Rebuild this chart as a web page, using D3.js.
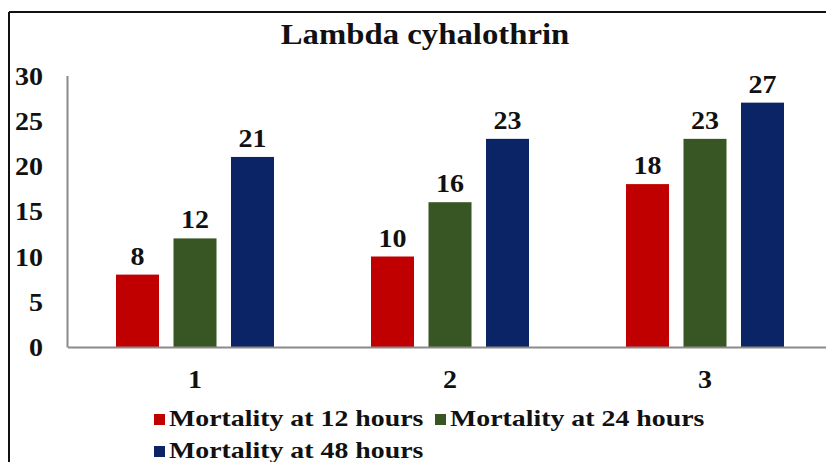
<!DOCTYPE html>
<html>
<head>
<meta charset="utf-8">
<script src="https://cdn.jsdelivr.net/npm/d3@7"></script>
<style>
  html, body { margin: 0; padding: 0; background: #fff; }
  svg { display: block; }
  text { font-family: "Liberation Serif", "Times New Roman", serif; font-weight: bold; fill: #111; }
</style>
</head>
<body>
<svg id="chart" width="826" height="462"></svg>
<script>
const title = "Lambda cyhalothrin";
const categories = ["1", "2", "3"];
const seriesNames = ["Mortality at 12 hours", "Mortality at 24 hours", "Mortality at 48 hours"];
const mort12 = [8, 10, 18];
const mort24 = [12, 16, 23];
const mort48 = [21, 23, 27];
const yTicks = [0, 5, 10, 15, 20, 25, 30];
const colors = ["#C00000", "#375623", "#0A2466"];

const seriesValues = [mort12, mort24, mort48];
const data = categories.map((c, i) => ({
  cat: c,
  vals: seriesNames.map((s, j) => ({ key: s, idx: j, value: seriesValues[j][i] }))
}));

const svg = d3.select("#chart");
const SX = 1.12;

// Outer frame (top and left edges visible)
svg.append("line").attr("x1", 9).attr("x2", 826).attr("y1", 12).attr("y2", 12)
  .attr("stroke", "#111").attr("stroke-width", 2);
svg.append("line").attr("x1", 9).attr("x2", 9).attr("y1", 12).attr("y2", 462)
  .attr("stroke", "#111").attr("stroke-width", 2);

// Title
svg.append("text")
  .attr("transform", `translate(425,44) scale(1.13,1)`)
  .attr("text-anchor", "middle")
  .style("font-size", "29px")
  .text(title);

const plotLeft = 67.5, plotRight = 832.5, plotTop = 75.5, plotBottom = 347;

const x0 = d3.scaleBand().domain(categories).range([plotLeft, plotRight]).padding(0);
const x1 = d3.scaleBand().domain(seriesNames)
  .range([48.5, x0.bandwidth() - 48.5]).paddingInner(0.252).paddingOuter(0);
const y = d3.scaleLinear().domain([0, 30]).range([plotBottom, plotTop]);

// Bars
const groups = svg.append("g").selectAll("g").data(data).join("g")
  .attr("transform", d => `translate(${x0(d.cat)},0)`);

groups.selectAll("rect").data(d => d.vals).join("rect")
  .attr("x", d => x1(d.key))
  .attr("y", d => y(d.value))
  .attr("width", x1.bandwidth())
  .attr("height", d => y(0) - y(d.value))
  .attr("fill", d => colors[d.idx]);

groups.selectAll("text.lbl").data(d => d.vals).join("text")
  .attr("class", "lbl")
  .attr("transform", d => `translate(${x1(d.key) + x1.bandwidth() / 2},${y(d.value) - 10}) scale(${SX},1)`)
  .attr("text-anchor", "middle")
  .style("font-size", "25px")
  .text(d => d.value);

// Y axis
const yAxis = svg.append("g").attr("transform", `translate(67,0)`)
  .call(d3.axisLeft(y).tickValues(yTicks).tickSize(0).tickSizeOuter(0));
yAxis.select(".domain").attr("stroke", "#8a8a8a").attr("stroke-width", 2);
yAxis.selectAll(".tick text")
  .attr("x", 0).attr("dy", "0.34em")
  .attr("transform", `translate(-24,0) scale(${SX},1)`)
  .attr("fill", "#111")
  .style("font-size", "25px")
  .style("font-family", "Liberation Serif")
  .style("font-weight", "bold");

// X axis
const xAxis = svg.append("g").attr("transform", `translate(0,${plotBottom})`)
  .call(d3.axisBottom(x0).tickSize(0).tickSizeOuter(0));
xAxis.select(".domain").attr("stroke", "#8a8a8a").attr("stroke-width", 2);
xAxis.selectAll(".tick text")
  .attr("y", 0).attr("dy", 0)
  .attr("transform", `translate(0,41) scale(${SX},1)`)
  .attr("fill", "#111")
  .style("font-size", "25px")
  .style("font-family", "Liberation Serif")
  .style("font-weight", "bold");

// Legend
const legendPos = [
  { x: 154, y: 414 },
  { x: 435, y: 414 },
  { x: 154, y: 446 }
];
const legend = svg.append("g").selectAll("g").data(seriesNames).join("g")
  .attr("transform", (d, i) => `translate(${legendPos[i].x},${legendPos[i].y})`);
legend.append("rect").attr("width", 11).attr("height", 11)
  .attr("fill", (d, i) => colors[i]);
legend.append("text")
  .attr("transform", `translate(15,12) scale(1.16,1)`)
  .style("font-size", "24px")
  .text(d => d);
</script>
</body>
</html>
